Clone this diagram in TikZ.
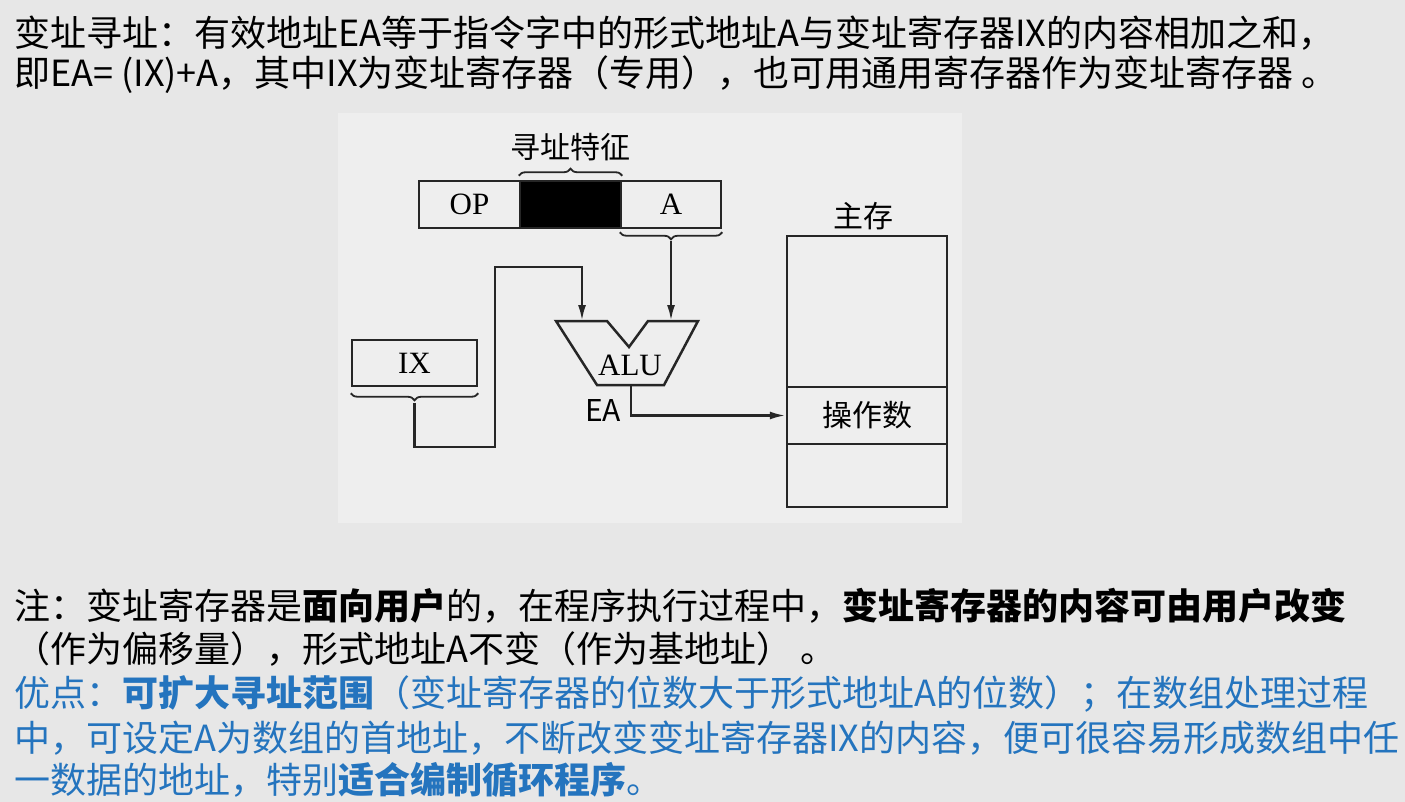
\documentclass[tikz,border=0pt]{standalone}
\usepackage{fontspec}
\setmainfont{Noto Sans CJK SC}
\newfontfamily\latserif{Liberation Serif}
\usetikzlibrary{decorations.pathreplacing,arrows.meta}
\definecolor{fond}{RGB}{231,231,231}
\definecolor{cadre}{RGB}{238,238,238}
\definecolor{bleu}{RGB}{36,116,190}
\definecolor{trait}{RGB}{38,38,38}

\tikzset{
  ligne/.style={anchor=base west,inner sep=0pt,font=\fontsize{36}{40}\selectfont},
  reg/.style={draw=trait,line width=2.5pt,inner sep=0pt,minimum height=47pt,font=\latserif\fontsize{31}{31}\selectfont},
  cell/.style={draw=trait,line width=2.5pt,inner sep=0pt,minimum width=160pt,font=\fontsize{30}{30}\selectfont},
  lab/.style={inner sep=0pt,font=\fontsize{30}{30}\selectfont},
  fleche/.style={draw=trait,line width=2.5pt,-{Latex[length=16pt,width=8pt]}},
  accolade/.style={draw=trait,line width=1.8pt,decorate,decoration={brace,amplitude=7pt}}
}

\begin{document}
\begin{tikzpicture}[x=1pt,y=-1pt]
\fill[fond] (0,0) rectangle (1405,802);
\useasboundingbox (0,0) rectangle (1405,802);
\fill[cadre] (338,113) rectangle (962,523);

\node[ligne] (l1) at (14,47) {变址寻址：有效地址EA等于指令字中的形式地址A与变址寄存器IX的内容相加之和，};
\node[ligne] (l2) at (14,87) {即EA= (IX)+A，其中IX为变址寄存器（专用），也可用通用寄存器作为变址寄存器 。};

\node[reg,minimum width=101pt] (op) at (469.5,204.5) {OP};
\node[reg,minimum width=101pt,fill=black] (feat) at (570.5,204.5) {};
\node[reg,minimum width=100pt] (a) at (671,204.5) {A};
\draw[accolade] ([yshift=4pt]feat.north west) -- ([yshift=4pt]feat.north east);
\node[lab] (featlab) at (570,147) {寻址特征};
\draw[accolade] ([yshift=-3pt]a.south east) -- ([yshift=-3pt]a.south west);
\coordinate (atip) at ([yshift=-12pt]a.south);

\node[reg,minimum width=125pt,minimum height=46pt] (ix) at (414.5,363) {IX};
\draw[accolade] ([yshift=-6pt]ix.south east) -- ([yshift=-6pt]ix.south west);
\coordinate (ixtip) at ([yshift=-16pt]ix.south);

\draw[draw=trait,line width=2.5pt,line join=miter] (556,321) -- (607,321) -- (629,347) -- (648,321) -- (698,321) -- (664,385) -- (597,385) -- cycle;
\node[lab,font=\latserif\fontsize{31}{31}\selectfont] (alu) at (630,365) {ALU};
\coordinate (in1) at (582,321);
\coordinate (in2) at (671,321);
\coordinate (out) at (631,385);
\node[lab] (ea) at (603,411) {EA};

\node[cell,minimum height=151pt] (mem1) at (867,311.5) {};
\node[cell,minimum height=57pt] (opnd) at (867,415.5) {操作数};
\node[cell,minimum height=63pt] (mem3) at (867,475.5) {};
\node[lab] (memlab) at (863,216) {主存};

\draw[fleche] (ixtip) |- (495,447) -- (495,267) -| (in1);
\draw[fleche] (atip) -- (in2);
\draw[fleche] (out) |- (opnd.west);

\node[ligne] (n1) at (14,619) {注：变址寄存器是\textbf{面向用户}的，在程序执行过程中，\textbf{变址寄存器的内容可由用户改变}};
\node[ligne] (n2) at (14,662) {（作为偏移量），形式地址A不变（作为基地址） 。};
\node[ligne,text=bleu] (n3) at (14,706) {优点：\textbf{可扩大寻址范围}（变址寄存器的位数大于形式地址A的位数）；在数组处理过程};
\node[ligne,text=bleu] (n4) at (14,751) {中，可设定A为数组的首地址，不断改变变址寄存器IX的内容，便可很容易形成数组中任};
\node[ligne,text=bleu] (n5) at (14,793) {一数据的地址，特别\textbf{适合编制循环程序}。};
\end{tikzpicture}
\end{document}
